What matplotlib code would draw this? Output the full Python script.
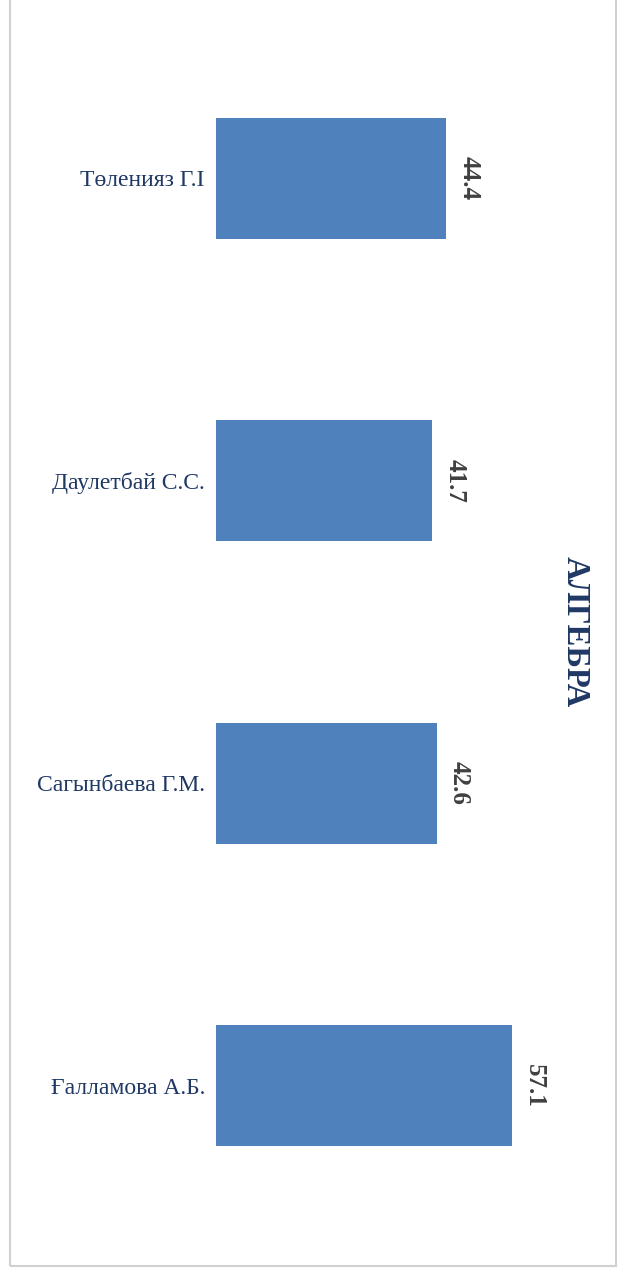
import matplotlib.pyplot as plt
from matplotlib.patches import Rectangle

# Data (bottom to top, as drawn by barh)
names = ['Ғалламова А.Б.', 'Сагынбаева Г.М.', 'Даулетбай С.С.', 'Төленияз Г.I']
scores = [57.1, 42.6, 41.7, 44.4]
title = 'АЛГЕБРА'

bar_color = '#4f81bd'
text_color = '#1f3864'
value_color = '#404040'

fig = plt.figure(figsize=(6.18, 12.71), dpi=100)
ax = fig.add_axes([0.3495, 0.0268, 0.503, 0.952])

ypos = range(len(names))
ax.barh(ypos, scores, height=0.4, color=bar_color)
ax.set_xlim(0, 60)
ax.set_ylim(-0.5, len(names) - 0.5)

ax.set_yticks(list(ypos))
ax.set_yticklabels(names, family='Liberation Serif', fontsize=17, color=text_color)
ax.tick_params(axis='y', length=0, pad=8)
ax.set_xticks([])
for s in ax.spines.values():
    s.set_visible(False)

# value labels, rotated to read top-down
for y, v in zip(ypos, scores):
    ax.annotate(f'{v}', xy=(v, y), xytext=(16.5, 0), textcoords='offset points',
                ha='center', va='center', rotation=-90,
                family='Liberation Serif', fontsize=18, fontweight='bold',
                color=value_color)

# rotated title on the right
fig.text(0.931, 0.503, title, rotation=-90, ha='center', va='center',
         family='Liberation Serif', fontsize=23.5, fontweight='bold', color=text_color)

# chart border
fig.patches.append(Rectangle((10 / 618, 5 / 1271), 606 / 618, 1.2,
                             transform=fig.transFigure, fill=False,
                             edgecolor='#d0d0d0', linewidth=1.5))

fig.savefig('out.png', dpi=100)
